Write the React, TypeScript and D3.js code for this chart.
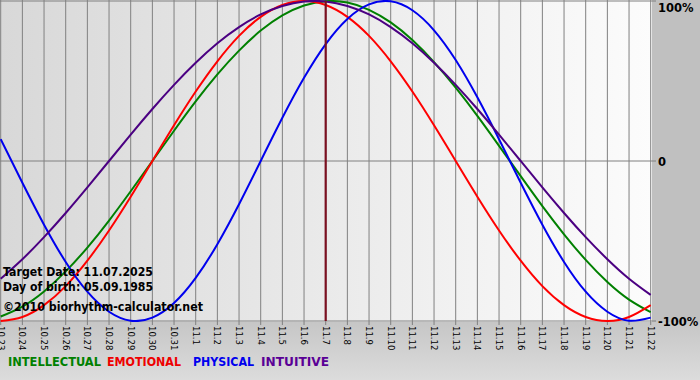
import React from "react";
import * as d3 from "d3";

const dayLabels = [
  "10.23", "10.24", "10.25", "10.26", "10.27", "10.28", "10.29", "10.30", "10.31",
  "11.1", "11.2", "11.3", "11.4", "11.5", "11.6", "11.7", "11.8", "11.9", "11.10",
  "11.11", "11.12", "11.13", "11.14", "11.15", "11.16", "11.17", "11.18", "11.19",
  "11.20", "11.21", "11.22",
];

const physical = [
  0.136, -0.136, -0.398, -0.631, -0.817, -0.942, -0.998, -0.979, -0.888, -0.731, -0.52,
  -0.27, 0, 0.27, 0.52, 0.731, 0.888, 0.979, 0.998, 0.942, 0.817, 0.631, 0.398, 0.136,
  -0.136, -0.398, -0.631, -0.817, -0.942, -0.998, -0.979,
];

const emotional = [
  -1, -0.975, -0.901, -0.782, -0.623, -0.434, -0.223, 0, 0.223, 0.434, 0.623, 0.782,
  0.901, 0.975, 1, 0.975, 0.901, 0.782, 0.623, 0.434, 0.223, 0, -0.223, -0.434, -0.623,
  -0.782, -0.901, -0.975, -1, -0.975, -0.901,
];

const intellectual = [
  -0.972, -0.91, -0.815, -0.69, -0.541, -0.372, -0.189, 0, 0.189, 0.372, 0.541, 0.69,
  0.815, 0.91, 0.972, 0.999, 0.99, 0.945, 0.866, 0.756, 0.618, 0.458, 0.282, 0.095,
  -0.095, -0.282, -0.458, -0.618, -0.756, -0.866, -0.945,
];

const intuitive = [
  -0.736, -0.614, -0.476, -0.325, -0.165, 0, 0.165, 0.325, 0.476, 0.614, 0.736, 0.837,
  0.916, 0.969, 0.997, 0.997, 0.969, 0.916, 0.837, 0.736, 0.614, 0.476, 0.325, 0.165, 0,
  -0.165, -0.325, -0.476, -0.614, -0.736, -0.837,
];

const targetIndex = 15;
const yTicks = [
  { v: 1, label: "100%", dy: 11 },
  { v: 0, label: "0", dy: 5 },
  { v: -1, label: "-100%", dy: 5 },
];

const series = [
  { name: "INTELLECTUAL", values: intellectual, color: "#008000", text: "#008000" },
  { name: "EMOTIONAL", values: emotional, color: "#ff0000", text: "#ee0000" },
  { name: "PHYSICAL", values: physical, color: "#0000ee", text: "#0000ee" },
  { name: "INTUITIVE", values: intuitive, color: "#4b0082", text: "#5a0096" },
];

const legendX = [8, 107, 193, 261];
const legendW = [93, 74, 61, 68];

const W = 700;
const H = 380;
const PLOT_R = 652;
const PLOT_B = 322;

export default function App() {
  const x = d3.scaleLinear().domain([0, dayLabels.length - 1]).range([0.7, 650.7]);
  const y = d3.scaleLinear().domain([-1, 1]).range([321, 1]);
  const line = d3
    .line<number>()
    .x((_, i) => x(i))
    .y((d) => y(d))
    .curve(d3.curveNatural);

  const font = "'DejaVu Sans', Verdana, sans-serif";

  return (
    <svg
      width={W}
      height={H}
      style={{ position: "absolute", left: 0, top: 0, display: "block" }}
    >
      <defs>
        <linearGradient id="plotbg" x1="0" x2="1" y1="0" y2="0">
          <stop offset="0" stopColor="#d8d8d8" />
          <stop offset="1" stopColor="#fcfcfc" />
        </linearGradient>
        <linearGradient id="bottombg" x1="0" x2="0" y1="0" y2="1">
          <stop offset="0" stopColor="#c6c6c6" />
          <stop offset="1" stopColor="#dcdcdc" />
        </linearGradient>
        <clipPath id="plotclip">
          <rect x={0} y={0} width={PLOT_R} height={PLOT_B} />
        </clipPath>
      </defs>
      <rect x={0} y={0} width={W} height={H} fill="#c0c0c0" />
      <rect x={0} y={PLOT_B} width={W} height={H - PLOT_B} fill="url(#bottombg)" />
      <rect x={0} y={0} width={PLOT_R} height={PLOT_B} fill="url(#plotbg)" />

      {/* vertical grid */}
      {dayLabels.map((_, i) => (
        <line
          key={"g" + i}
          x1={x(i)}
          x2={x(i)}
          y1={0}
          y2={325}
          stroke="#808080"
          strokeWidth={1}
        />
      ))}
      {/* horizontal grid */}
      {yTicks.map((t) => (
        <line
          key={"h" + t.v}
          x1={0}
          x2={PLOT_R + 4}
          y1={y(t.v)}
          y2={y(t.v)}
          stroke="#808080"
          strokeWidth={1}
        />
      ))}

      <g clipPath="url(#plotclip)">
        {series.map((s) => (
          <path
            key={s.name}
            d={line(s.values) || ""}
            fill="none"
            stroke={s.color}
            strokeWidth={2}
          />
        ))}
      </g>

      <line
        x1={x(targetIndex)}
        x2={x(targetIndex)}
        y1={1}
        y2={321}
        stroke="#7a1020"
        strokeWidth={2.2}
      />

      {/* info text */}
      <g fontFamily={font} fontWeight="bold" fontSize={11.5} fill="#000">
        <text x={3} y={276} textLength={150} lengthAdjust="spacingAndGlyphs">
          Target Date: 11.07.2025
        </text>
        <text x={3} y={291} textLength={150} lengthAdjust="spacingAndGlyphs">
          Day of birth: 05.09.1985
        </text>
        <text x={3} y={311} textLength={200} lengthAdjust="spacingAndGlyphs">
          ©2010 biorhythm-calculator.net
        </text>
      </g>

      {/* x labels */}
      <g fontFamily={font} fontSize={8.5} fill="#000">
        {dayLabels.map((d, i) => (
          <text
            key={"l" + i}
            transform={`translate(${x(i)},326) rotate(90)`}
            dominantBaseline="central"
            textAnchor="start"
          >
            {d}
          </text>
        ))}
      </g>

      {/* y labels */}
      <g fontFamily={font} fontWeight="bold" fontSize={11.5} fill="#000">
        {yTicks.map((t) => (
          <text key={"y" + t.v} x={658} y={y(t.v) + t.dy}>
            {t.label}
          </text>
        ))}
      </g>

      {/* legend */}
      <g fontFamily={font} fontWeight="bold" fontSize={12}>
        {series.map((s, i) => (
          <text
            key={"lg" + s.name}
            x={legendX[i]}
            y={366}
            fill={s.text}
            textLength={legendW[i]}
            lengthAdjust="spacingAndGlyphs"
          >
            {s.name}
          </text>
        ))}
      </g>
    </svg>
  );
}
